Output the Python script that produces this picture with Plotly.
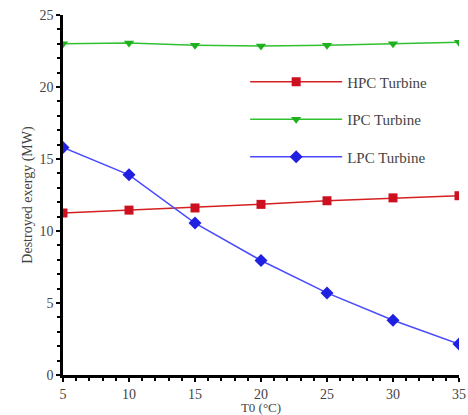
import plotly.graph_objects as go

t0 = [5, 10, 15, 20, 25, 30, 35]
hpc = [11.25, 11.45, 11.6, 11.85, 12.1, 12.3, 12.45]
ipc = [23.0, 23.05, 22.9, 22.85, 22.9, 23.0, 23.1]
lpc = [15.8, 13.9, 10.55, 7.95, 5.7, 3.8, 2.15]

fig = go.Figure()
fig.add_trace(go.Scatter(x=t0, y=hpc, name="HPC Turbine", mode="lines+markers", legendgroup="a",
                         line=dict(color="#d42020", width=1.5),
                         marker=dict(symbol="square", size=9, color="#cc1020")))
fig.add_trace(go.Scatter(x=t0, y=ipc, name="IPC Turbine", mode="lines+markers", legendgroup="b",
                         line=dict(color="#30c030", width=1.5),
                         marker=dict(symbol="triangle-down", size=9, color="#20b020")))
fig.add_trace(go.Scatter(x=t0, y=lpc, name="LPC Turbine", mode="lines+markers", legendgroup="c",
                         line=dict(color="#4a4aff", width=1.5),
                         marker=dict(symbol="diamond", size=10, color="#2020e0")))

axis_common = dict(showgrid=False, zeroline=False, showline=True, linecolor="black",
                   linewidth=2.5, ticks="outside", tickcolor="black", ticklen=4, tickwidth=1.5,
                   automargin=False,
                   tickfont=dict(family="Liberation Serif", size=14, color="#444"),
                   minor=dict(ticks="outside", ticklen=3, tickcolor="black", dtick=1))
fig.update_xaxes(range=[5, 35], tickvals=[5, 10, 15, 20, 25, 30, 35],
                 title=dict(text="T0 (°C)", font=dict(family="Liberation Serif", size=13, color="#444"), standoff=0),
                 **axis_common)
fig.update_yaxes(range=[0, 25], tickvals=[0, 5, 10, 15, 20, 25],
                 title=dict(text="Destroyed exergy (MW)", font=dict(family="Liberation Serif", size=14, color="#444"), standoff=4),
                 **axis_common)
fig.update_layout(
    width=468, height=415, paper_bgcolor="white", plot_bgcolor="white",
    margin=dict(l=63, r=9, t=15, b=40),
    legend=dict(x=0.46, y=0.86, xanchor="left", yanchor="top", itemwidth=92,
                font=dict(family="Liberation Serif", size=15, color="#444"),
                tracegroupgap=15, bgcolor="rgba(0,0,0,0)"),
)
fig.write_html("out.html")
